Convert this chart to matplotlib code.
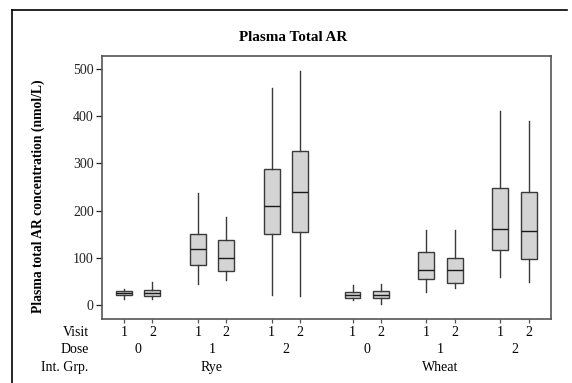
import matplotlib
matplotlib.use("Agg")
import matplotlib.pyplot as plt
from matplotlib.lines import Line2D

plt.rcParams['font.family'] = ['Liberation Serif', 'DejaVu Serif']

# box stats (nmol/L), order: Rye d0 v1,v2, d1, d2, Wheat d0, d1, d2
groups = ['Rye', 'Wheat']
doses = ['0', '1', '2']
visits = ['1', '2']
whislo = [13, 13, 44, 53, 21, 19, 11, 1, 28, 35, 59, 49]
q1 = [20, 18, 84, 72, 150, 155, 15, 15.5, 54, 47, 116, 97]
med = [25, 25, 119, 100, 210, 239, 21, 22, 73, 75, 162, 156]
q3 = [30, 31, 150, 137, 288, 327, 27.5, 29, 112, 100, 247, 239]
whishi = [33, 48, 237, 186, 460, 497, 42, 44, 158, 158, 412, 390]

positions = [0, 1, 2.6, 3.6, 5.2, 6.2, 8.05, 9.05, 10.65, 11.65, 13.25, 14.25]

stats = []
for i in range(len(med)):
    stats.append(dict(whislo=whislo[i], q1=q1[i], med=med[i], q3=q3[i],
                      whishi=whishi[i], fliers=[]))

fig = plt.figure(figsize=(5.72, 3.83), dpi=100)
ax = fig.add_axes([0.1783, 0.167, 0.785, 0.687])

edge = '#3a3a3a'
ax.bxp(stats, positions=positions, widths=0.56, patch_artist=True,
       showcaps=False, showfliers=False,
       boxprops=dict(facecolor='#d4d4d4', edgecolor=edge, linewidth=1.0),
       medianprops=dict(color='#1a1a1a', linewidth=1.0),
       whiskerprops=dict(color=edge, linewidth=1.0))

ax.set_xlim(-0.775, 15.04)
ax.set_ylim(-30, 528)
ax.set_yticks([0, 100, 200, 300, 400, 500])
ax.set_xticks(positions)
ax.set_xticklabels([])
ax.tick_params(axis='y', direction='out', length=4, width=0.9, pad=2,
               labelsize=10, colors='#222222')
ax.tick_params(axis='x', direction='out', length=3, width=0.9, colors='#555555')
for s in ax.spines.values():
    s.set_color('#555555')
    s.set_linewidth(1.2)

ax.set_ylabel('Plasma total AR concentration (nmol/L)', fontsize=9.8,
              fontweight='bold')
ax.yaxis.set_label_coords(-0.127, 0.468)

fs = 10
tr = ax.get_xaxis_transform()
row_y = [-0.052, -0.1156, -0.184]
ax.text(-0.03, row_y[0], 'Visit', transform=ax.transAxes, ha='right', va='center', fontsize=fs)
ax.text(-0.03, row_y[1], 'Dose', transform=ax.transAxes, ha='right', va='center', fontsize=fs)
ax.text(-0.03, row_y[2], 'Int. Grp.', transform=ax.transAxes, ha='right', va='center', fontsize=fs)

for i, p in enumerate(positions):
    ax.text(p, row_y[0], visits[i % 2], transform=tr, ha='center', va='center', fontsize=fs)
for k in range(6):
    x = (positions[2 * k] + positions[2 * k + 1]) / 2
    ax.text(x, row_y[1], doses[k % 3], transform=tr, ha='center', va='center', fontsize=fs)
for g in range(2):
    x = (positions[6 * g] + positions[6 * g + 5]) / 2
    ax.text(x, row_y[2], groups[g], transform=tr, ha='center', va='center', fontsize=fs)

fig.text(293 / 572, 1 - 37.7 / 383, 'Plasma Total AR', ha='center', va='center',
         fontsize=10.9, fontweight='bold')

# outer frame (left and top edges visible)
fig.add_artist(Line2D([0.021, 0.021], [0, 0.974], color='black', linewidth=1.2))
fig.add_artist(Line2D([0.021, 0.991], [0.974, 0.974], color='black', linewidth=1.2))

fig.savefig('out.png', dpi=100)
